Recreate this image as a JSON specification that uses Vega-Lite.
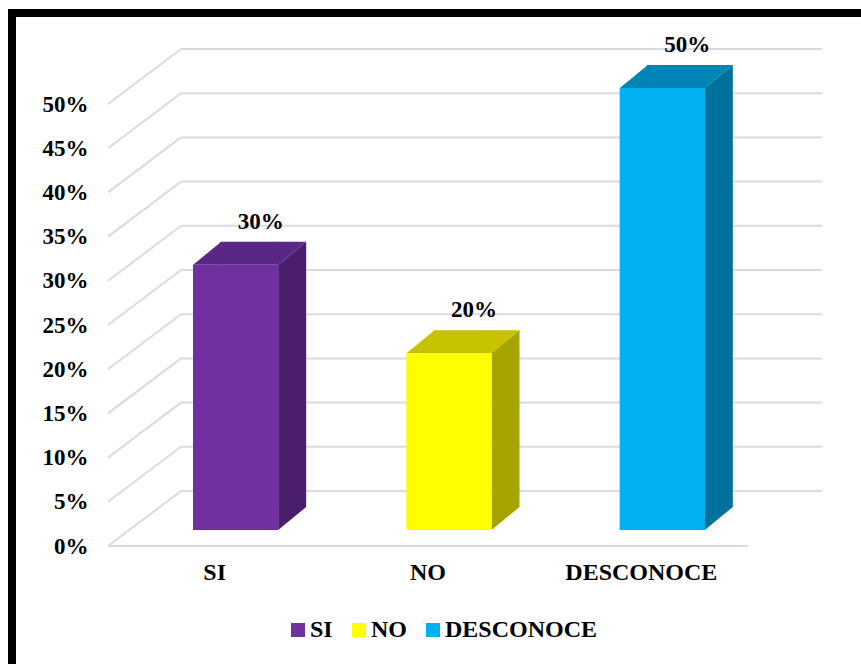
{
  "$schema": "https://vega.github.io/schema/vega-lite/v6.json",
  "autosize": {"type": "none"},
  "padding": {"left": 12, "top": 13, "right": 0, "bottom": 0},
  "width": 849,
  "height": 651,
  "background": "#ffffff",
  "datasets": {
    "respuestas": [
      {"respuesta": "SI", "porcentaje": 0.3},
      {"respuesta": "NO", "porcentaje": 0.2},
      {"respuesta": "DESCONOCE", "porcentaje": 0.5}
    ],
    "niveles": [
      {"nivel": 0}, {"nivel": 0.05}, {"nivel": 0.1}, {"nivel": 0.15}, {"nivel": 0.2},
      {"nivel": 0.25}, {"nivel": 0.3}, {"nivel": 0.35}, {"nivel": 0.4}, {"nivel": 0.45}, {"nivel": 0.5}
    ]
  },
  "resolve": {"scale": {"color": "independent"}},
  "layer": [
    {
      "data": {"name": "niveles"},
      "mark": {"type": "rule", "color": "#D9DBE3", "strokeWidth": 2, "xOffset": 73, "x2Offset": 74, "yOffset": -55},
      "encoding": {
        "x": {"datum": "SI", "bandPosition": -0.75, "type": "nominal",
              "scale": {"type": "band", "domain": ["SI", "NO", "DESCONOCE"], "range": [96, 736], "paddingInner": 0.6, "paddingOuter": 0.3},
              "title": null},
        "x2": {"datum": "DESCONOCE", "bandPosition": 1.75},
        "y": {"field": "nivel", "type": "quantitative", "title": null,
              "scale": {"domain": [0, 0.5], "range": [533, 91], "nice": false},
              "axis": {"orient": "left", "offset": -96, "values": [0, 0.05, 0.1, 0.15, 0.2, 0.25, 0.3, 0.35, 0.4, 0.45, 0.5],
                       "format": ".0%", "domain": false, "ticks": false, "grid": false, "labelPadding": 20,
                       "labelFont": "Liberation Serif", "labelFontSize": 23, "labelFontWeight": "bold", "labelColor": "#000000"}}
      }
    },
    {
      "data": {"name": "niveles"},
      "mark": {"type": "rule", "color": "#D9DBE3", "strokeWidth": 2, "x2Offset": 73, "y2Offset": -55},
      "encoding": {
        "x": {"datum": "SI", "bandPosition": -0.75, "type": "nominal", "title": null},
        "x2": {"datum": "SI", "bandPosition": -0.75},
        "y": {"field": "nivel", "type": "quantitative", "title": null},
        "y2": {"field": "nivel"}
      }
    },
    {
      "data": {"name": "niveles"},
      "transform": [{"filter": "datum.nivel == 0"}],
      "mark": {"type": "rule", "color": "#D9DBE3", "strokeWidth": 2},
      "encoding": {
        "x": {"datum": "SI", "bandPosition": -0.75, "type": "nominal", "title": null},
        "x2": {"datum": "DESCONOCE", "bandPosition": 1.75},
        "y": {"field": "nivel", "type": "quantitative", "title": null}
      }
    },
    {
      "data": {"name": "respuestas"},
      "mark": {"type": "bar", "width": 28, "xOffset": 77.5, "yOffset": -17, "y2Offset": -39},
      "encoding": {
        "x": {"field": "respuesta", "type": "nominal", "title": null},
        "y": {"field": "porcentaje", "type": "quantitative", "title": null},
        "y2": {"datum": 0},
        "color": {"field": "respuesta", "type": "nominal", "legend": null,
                  "scale": {"domain": ["SI", "NO", "DESCONOCE"], "range": ["#4A1E6C", "#A6A400", "#00719A"]}}
      }
    },
    {
      "data": {"name": "respuestas"},
      "mark": {"type": "point", "filled": true, "opacity": 1, "strokeWidth": 0, "size": 784,
               "shape": "M-1,0.8214L1,-0.8214L1,0.8214Z", "xOffset": 77.5, "yOffset": -27.5},
      "encoding": {
        "x": {"field": "respuesta", "type": "nominal", "title": null},
        "y": {"field": "porcentaje", "type": "quantitative", "title": null},
        "color": {"field": "respuesta", "type": "nominal", "legend": null,
                  "scale": {"domain": ["SI", "NO", "DESCONOCE"], "range": ["#4A1E6C", "#A6A400", "#00719A"]}}
      }
    },
    {
      "data": {"name": "respuestas"},
      "mark": {"type": "point", "filled": true, "opacity": 1, "strokeWidth": 0, "size": 784,
               "shape": "M-1,-0.8214L-1,0.8214L1,-0.8214Z", "xOffset": 77.5, "yOffset": -27.5},
      "encoding": {
        "x": {"field": "respuesta", "type": "nominal", "title": null},
        "y": {"datum": 0, "type": "quantitative"},
        "color": {"field": "respuesta", "type": "nominal", "legend": null,
                  "scale": {"domain": ["SI", "NO", "DESCONOCE"], "range": ["#4A1E6C", "#A6A400", "#00719A"]}}
      }
    },
    {
      "data": {"name": "respuestas"},
      "mark": {"type": "bar", "width": 59, "xOffset": 35, "yOffset": -39, "y2Offset": -16},
      "encoding": {
        "x": {"field": "respuesta", "type": "nominal", "title": null},
        "y": {"field": "porcentaje", "type": "quantitative", "title": null},
        "y2": {"field": "porcentaje"},
        "color": {"field": "respuesta", "type": "nominal", "legend": null,
                  "scale": {"domain": ["SI", "NO", "DESCONOCE"], "range": ["#5A2787", "#C6C200", "#0085B6"]}}
      }
    },
    {
      "data": {"name": "respuestas"},
      "mark": {"type": "point", "filled": true, "opacity": 1, "strokeWidth": 0, "size": 784,
               "shape": "M-1,0.8214L1,0.8214L1,-0.8214Z", "xOffset": -7.5, "yOffset": -27.5},
      "encoding": {
        "x": {"field": "respuesta", "type": "nominal", "title": null},
        "y": {"field": "porcentaje", "type": "quantitative", "title": null},
        "color": {"field": "respuesta", "type": "nominal", "legend": null,
                  "scale": {"domain": ["SI", "NO", "DESCONOCE"], "range": ["#5A2787", "#C6C200", "#0085B6"]}}
      }
    },
    {
      "data": {"name": "respuestas"},
      "mark": {"type": "point", "filled": true, "opacity": 1, "strokeWidth": 0, "size": 784,
               "shape": "M-1,0.8214L-1,-0.8214L1,-0.8214Z", "xOffset": 77.5, "yOffset": -27.5},
      "encoding": {
        "x": {"field": "respuesta", "type": "nominal", "title": null},
        "y": {"field": "porcentaje", "type": "quantitative", "title": null},
        "color": {"field": "respuesta", "type": "nominal", "legend": null,
                  "scale": {"domain": ["SI", "NO", "DESCONOCE"], "range": ["#5A2787", "#C6C200", "#0085B6"]}}
      }
    },
    {
      "data": {"name": "respuestas"},
      "mark": {"type": "bar", "xOffset": 21, "yOffset": -16, "y2Offset": -16},
      "encoding": {
        "x": {"field": "respuesta", "type": "nominal", "title": null,
              "axis": {"orient": "bottom", "offset": -118, "labelAngle": 0, "labelAlign": "center", "domain": false, "ticks": false, "labelPadding": 26,
                       "labelFont": "Liberation Serif", "labelFontSize": 24, "labelFontWeight": "bold", "labelColor": "#000000", "labelLimit": 0}},
        "y": {"field": "porcentaje", "type": "quantitative", "title": null},
        "y2": {"datum": 0},
        "color": {"field": "respuesta", "type": "nominal",
                  "scale": {"domain": ["SI", "NO", "DESCONOCE"], "range": ["#7030A0", "#FFFF00", "#00B0F0"]},
                  "legend": {"orient": "none", "legendX": 274, "legendY": 605, "direction": "horizontal", "title": null,
                             "symbolType": "square", "symbolSize": 196, "symbolStrokeWidth": 0,
                             "labelFont": "Liberation Serif", "labelFontSize": 24, "labelFontWeight": "bold", "labelColor": "#000000",
                             "labelOffset": 0, "columnPadding": 14, "labelLimit": 0}}
      }
    },
    {
      "data": {"name": "respuestas"},
      "mark": {"type": "text", "font": "Liberation Serif", "fontSize": 23, "fontWeight": "bold", "color": "#000000",
               "align": "center", "baseline": "alphabetic", "xOffset": 46, "yOffset": -52},
      "encoding": {
        "x": {"field": "respuesta", "type": "nominal", "title": null},
        "y": {"field": "porcentaje", "type": "quantitative", "title": null},
        "text": {"field": "porcentaje", "format": ".0%"}
      }
    }
  ],
  "config": {
    "view": {"stroke": "#000000", "strokeWidth": 8, "strokeDash": [849, 1500, 651, 0], "strokeCap": "square"}
  }
}
